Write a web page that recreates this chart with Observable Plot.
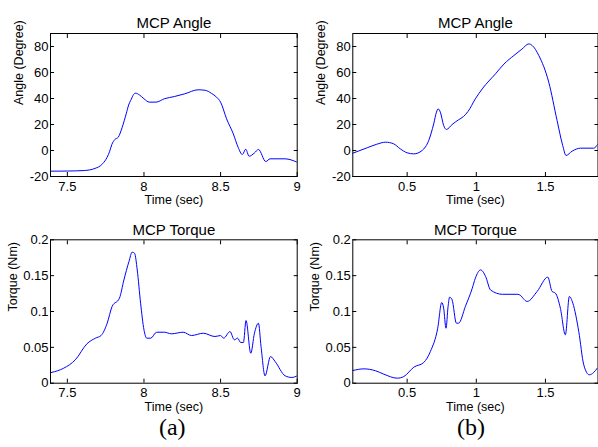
<!DOCTYPE html>
<html>
<head>
<meta charset="utf-8">
<script src="https://cdn.jsdelivr.net/npm/d3@7"></script>
<script src="https://cdn.jsdelivr.net/npm/@observablehq/plot@0.6"></script>
<style>
  html, body { margin: 0; padding: 0; background: #fff; }
  #wrap { position: relative; width: 598px; height: 447px; background: #fff; overflow: hidden; }
</style>
</head>
<body>
<div id="wrap"></div>
<script>
// ---- Data ----
const angleA_t = [7.39, 7.50, 7.61, 7.68, 7.73, 7.76, 7.775, 7.79, 7.81, 7.832, 7.858, 7.884, 7.90, 7.913, 7.943, 7.97, 8.0, 8.035, 8.079, 8.133, 8.198, 8.266, 8.354, 8.40, 8.44, 8.474, 8.50, 8.539, 8.583, 8.614, 8.642, 8.664, 8.686, 8.72, 8.747, 8.795, 8.823, 8.92, 9.0];
const angleA_v = [-15.9, -15.8, -15.4, -13.8, -10.2, -5.1, -1, 4.5, 8.5, 10.2, 17.9, 28.2, 35, 38.5, 44.1, 42.8, 39.8, 37.2, 37.2, 39.8, 41.5, 43.6, 46.7, 46.3, 44, 41, 37.2, 24.4, 12.8, 2.6, -3.1, 1.0, -4.4, -2, 0.8, -8.5, -6.4, -6.4, -9];

const angleB_t = [0.107, 0.211, 0.28, 0.344, 0.403, 0.45, 0.5, 0.548, 0.608, 0.656, 0.692, 0.712, 0.724, 0.74, 0.764, 0.784, 0.825, 0.87, 0.908, 0.94, 0.993, 1.043, 1.139, 1.2, 1.272, 1.33, 1.38, 1.404, 1.452, 1.524, 1.584, 1.625, 1.649, 1.693, 1.753, 1.849, 1.88];
const angleB_v = [-2.1, 2.1, 4.8, 6.4, 5.1, 1.3, -1.8, -2.6, 0, 7.7, 20.5, 29.5, 32, 29.5, 19.2, 16.2, 20, 23.5, 26.2, 30, 39.7, 47.4, 59, 66.5, 73.1, 78, 82, 80.8, 73.1, 52.5, 23.1, 3.8, -3.8, -0.5, 1.8, 1.8, 5.1];

const torqueA_t = [7.395, 7.476, 7.552, 7.628, 7.683, 7.72, 7.76, 7.792, 7.84, 7.869, 7.902, 7.923, 7.939, 7.956, 7.978, 8.0, 8.018, 8.044, 8.083, 8.133, 8.179, 8.256, 8.31, 8.387, 8.463, 8.50, 8.52, 8.561, 8.59, 8.611, 8.631, 8.649, 8.666, 8.697, 8.721, 8.747, 8.764, 8.79, 8.826, 8.856, 8.921, 8.965, 9.0];
const torqueA_v = [0.0149, 0.0209, 0.0326, 0.055, 0.0628, 0.0665, 0.0837, 0.107, 0.1186, 0.144, 0.1697, 0.1827, 0.181, 0.158, 0.1116, 0.0745, 0.0628, 0.0628, 0.0711, 0.0711, 0.0689, 0.0711, 0.0665, 0.0697, 0.0651, 0.0665, 0.0628, 0.072, 0.0605, 0.0628, 0.0568, 0.0568, 0.0874, 0.0418, 0.0697, 0.0837, 0.0512, 0.0103, 0.0372, 0.0302, 0.0103, 0.008, 0.0103];

const torqueB_t = [0.107, 0.187, 0.272, 0.331, 0.428, 0.476, 0.548, 0.62, 0.668, 0.721, 0.75, 0.764, 0.781, 0.796, 0.807, 0.825, 0.856, 0.872, 0.921, 0.971, 0.993, 1.031, 1.067, 1.103, 1.188, 1.296, 1.31, 1.368, 1.44, 1.517, 1.548, 1.572, 1.608, 1.644, 1.673, 1.698, 1.741, 1.777, 1.817, 1.849, 1.875];
const torqueB_v = [0.0177, 0.020, 0.0173, 0.0126, 0.007, 0.0093, 0.0223, 0.0289, 0.0442, 0.0767, 0.1126, 0.1046, 0.0767, 0.107, 0.12, 0.1163, 0.0837, 0.0837, 0.107, 0.1325, 0.1464, 0.158, 0.149, 0.130, 0.124, 0.124, 0.1235, 0.114, 0.128, 0.148, 0.128, 0.1256, 0.1046, 0.0675, 0.121, 0.1116, 0.072, 0.0257, 0.0117, 0.015, 0.021];

const xTicksA = [7.5, 8, 8.5, 9];
const xTicksB = [0.5, 1, 1.5];
const angleTicks = [-20, 0, 20, 40, 60, 80];
const torqueTicks = [0, 0.05, 0.1, 0.15, 0.2];

const titles = ["MCP Angle", "MCP Torque"];
const yLabels = ["Angle (Degree)", "Torque (Nm)"];
const xLabel = "Time (sec)";
const subLabels = ["(a)", "(b)"];

const zip = (t, v) => t.map((d, i) => ({t: d, v: v[i]}));

const FONT = "'Liberation Sans', Arial, Helvetica, sans-serif";

function panel(o) {
  const marks = [
    Plot.line(zip(o.t, o.v), {x: "t", y: "v", stroke: "#0000ff", strokeWidth: 1, curve: "monotone-x", clip: true}),
    Plot.frame({stroke: "#000", strokeWidth: 1}),
    // tick labels
    Plot.axisX(o.xTicks, {anchor: "bottom", tickSize: 0, tickPadding: 5, tickFormat: d => String(d), label: null, fontSize: 13}),
    Plot.axisY(o.yTicks, {anchor: "left", tickSize: 0, tickPadding: 2, tickFormat: d => String(d), label: null, fontSize: 13}),
    // inward ticks on all four sides
    Plot.axisX(o.xTicks, {anchor: "bottom", tickSize: 4, dy: -4, fill: "none", label: null}),
    Plot.axisX(o.xTicks, {anchor: "top", tickSize: 4, dy: 4, fill: "none", label: null}),
    Plot.axisY(o.yTicks, {anchor: "left", tickSize: 4, dx: 4, fill: "none", label: null}),
    Plot.axisY(o.yTicks, {anchor: "right", tickSize: 4, dx: -4, fill: "none", label: null}),
    // title and axis labels
    Plot.text([o.title], {frameAnchor: "top", dy: o.titleDy, fontSize: 15, text: d => d}),
    Plot.text([xLabel], {frameAnchor: "bottom", dy: 27.5, fontSize: 12.5, text: d => d}),
    Plot.text([o.ylabel], {frameAnchor: "left", dx: o.ylabelDx, rotate: -90, fontSize: 12.5, text: d => d})
  ];
  if (o.sub) marks.push(Plot.text([o.sub], {frameAnchor: "bottom", dy: 51.3, dx: o.subDx, fontSize: 24, fontFamily: "'Liberation Serif', 'Times New Roman', serif", text: d => d}));
  const svg = Plot.plot({
    width: o.width, height: o.height,
    marginLeft: o.ml, marginRight: o.mr, marginTop: o.mt, marginBottom: o.mb,
    style: {fontFamily: FONT, background: "transparent", color: "#000", overflow: "visible"},
    x: {domain: o.xDomain},
    y: {domain: o.yDomain},
    marks
  });
  svg.style.left = o.left + "px";
  svg.style.top = o.top + "px";
  svg.style.position = "absolute";
  document.getElementById("wrap").appendChild(svg);
}

const domA = [7.39, 9];
const domB = [0.107, 1.88];

panel({t: angleA_t, v: angleA_v, xDomain: domA, yDomain: [-20, 90], xTicks: xTicksA, yTicks: angleTicks,
  title: titles[0], ylabel: yLabels[0], titleDy: -16.3, ylabelDx: -31.5,
  left: 0, top: 0, width: 300, height: 214, ml: 50, mr: 3.3, mt: 33, mb: 38});
panel({t: angleB_t, v: angleB_v, xDomain: domB, yDomain: [-20, 90], xTicks: xTicksB, yTicks: angleTicks,
  title: titles[0], ylabel: yLabels[0], titleDy: -16.3, ylabelDx: -31.8,
  left: 300, top: 0, width: 298, height: 214, ml: 52.3, mr: 0.5, mt: 33, mb: 38});
panel({t: torqueA_t, v: torqueA_v, xDomain: domA, yDomain: [0, 0.2], xTicks: xTicksA, yTicks: torqueTicks,
  title: titles[1], ylabel: yLabels[1], titleDy: -15.3, ylabelDx: -37.5, sub: subLabels[0], subDx: -1.6,
  left: 0, top: 200, width: 300, height: 247, ml: 50, mr: 3.3, mt: 39.3, mb: 64.3});
panel({t: torqueB_t, v: torqueB_v, xDomain: domB, yDomain: [0, 0.2], xTicks: xTicksB, yTicks: torqueTicks,
  title: titles[1], ylabel: yLabels[1], titleDy: -15.3, ylabelDx: -37.8, sub: subLabels[1], subDx: -4.5,
  left: 300, top: 200, width: 298, height: 247, ml: 52.3, mr: 0.5, mt: 39.3, mb: 64.3});
</script>
</body>
</html>
